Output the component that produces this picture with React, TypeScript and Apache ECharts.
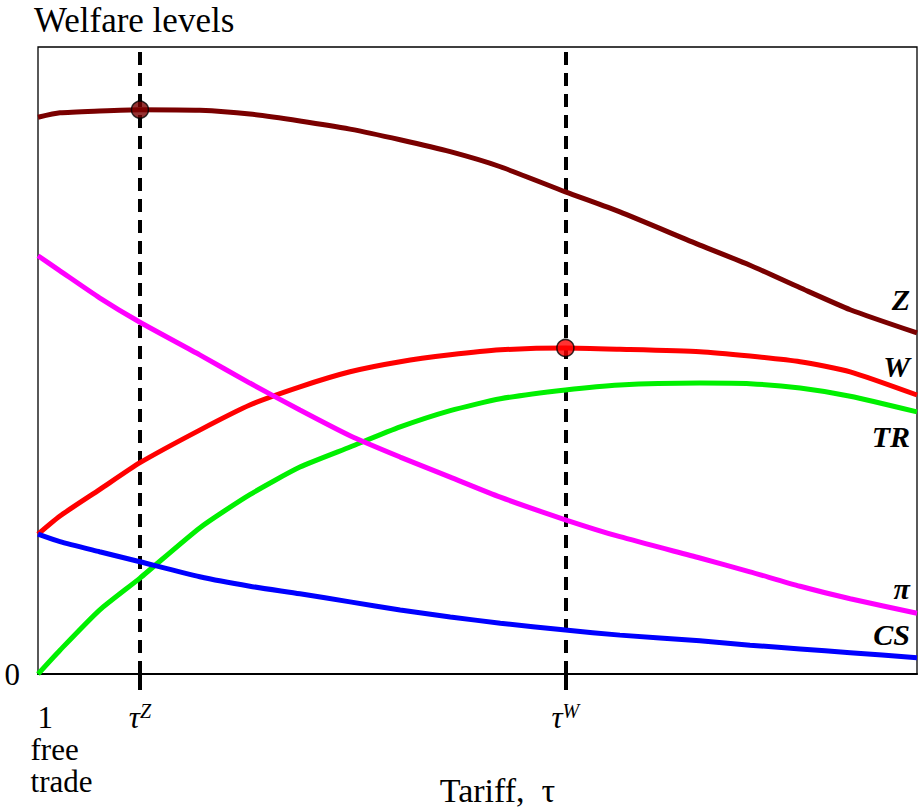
import React, { useEffect, useRef } from "react";
import * as echarts from "echarts";

// Tariff axis positions (0 = free trade, tau = 1)
const tauX = [0, 2.5, 7, 11.6, 18.4, 24.1, 29.8, 35.5, 41.2, 46.9, 52.6, 60, 66.2, 75.3, 81, 86.7, 92.4, 100];
const tauZ = 11.6;
const tauW = 60;

// Welfare components
const zValues = [88.8, 89.5, 89.8, 90.0, 89.9, 89.3, 88.2, 86.9, 85.2, 83.3, 80.9, 76.9, 73.7, 68.4, 65.2, 61.6, 58.1, 54.4];
const wValues = [22.3, 25.2, 29.4, 33.7, 38.9, 42.9, 45.8, 48.2, 49.8, 50.9, 51.7, 52.0, 51.8, 51.4, 50.7, 49.8, 48.2, 44.5];
const trValues = [0, 3.8, 10.2, 15.3, 23.3, 28.6, 33.0, 36.2, 39.4, 42.0, 43.9, 45.3, 46.1, 46.4, 46.3, 45.6, 44.3, 41.8];
const piValues = [66.7, 64.3, 60.0, 56.1, 50.9, 46.4, 42.1, 38.0, 34.6, 31.4, 28.2, 24.6, 21.9, 18.5, 16.3, 14.0, 12.0, 9.7];
const csValues = [22.3, 21.1, 19.5, 17.9, 15.5, 14.0, 12.8, 11.5, 10.2, 9.1, 8.1, 7.0, 6.2, 5.3, 4.6, 4.0, 3.4, 2.6];

const seriesNames = ["Z", "W", "TR", "π", "CS"];
const seriesColors = ["#7a0000", "#ff0000", "#00f000", "#ff00ff", "#0000ff"];

const FONT = "Liberation Serif, Times New Roman, serif";

export default function App() {
  const ref = useRef<HTMLDivElement>(null);
  useEffect(() => {
    if (!ref.current) return;
    const chart = echarts.init(ref.current, null, { renderer: "svg" });
    const all = [zValues, wValues, trValues, piValues, csValues];
    const labelOffsets = [-33, -28, 25, -25, -23];
    const lineSeries = all.map((vals, i) => ({
      type: "line",
      name: seriesNames[i],
      data: tauX.map((x, j) => [x, vals[j]]),
      showSymbol: false,
      symbol: "none",
      smooth: 0.2,
      lineStyle: { color: seriesColors[i], width: 5 },
      itemStyle: { color: seriesColors[i] },
      z: 3,
      endLabel: {
        show: true,
        formatter: seriesNames[i],
        align: "right",
        verticalAlign: "middle",
        offset: [-15, labelOffsets[i]],
        fontFamily: FONT,
        fontSize: 30,
        fontWeight: "bold",
        fontStyle: "italic",
        color: "#000",
      },
    }));
    const iz = tauX.indexOf(tauZ);
    const iw = tauX.indexOf(tauW);
    chart.setOption({
      animation: false,
      title: {
        text: "Welfare levels",
        left: 34,
        top: 3,
        padding: 0,
        textStyle: { fontFamily: FONT, fontSize: 35, fontWeight: "normal", color: "#000" },
      },
      grid: {
        left: 38,
        right: 4,
        top: 47,
        bottom: 135,
        containLabel: false,
        outerBoundsMode: "none",
        show: true,
        borderColor: "#000",
        borderWidth: 1.3,
      },
      xAxis: {
        type: "value",
        min: 0,
        max: 100,
        name: "Tariff,  τ",
        nameLocation: "middle",
        nameGap: 99,
        nameMoveOverlap: false,
        nameTextStyle: {
          fontFamily: FONT,
          fontSize: 34,
          color: "#000",
          padding: [0, 0, 0, 40],
        },
        axisLine: { show: true, onZero: false, lineStyle: { color: "#000", width: 2 } },
        axisTick: {
          show: true,
          customValues: [tauZ, tauW],
          length: 16,
          lineStyle: { color: "#000", width: 4 },
        },
        splitLine: { show: false },
        axisLabel: {
          customValues: [0, tauZ, tauW],
          showMinLabel: true,
          margin: 27,
          color: "#000",
          fontFamily: FONT,
          fontSize: 31,
          formatter: (v: number) => {
            if (v === 0) return "{sp| }{one|1}\n{sp| }{ft|free}\n{sp| }{ft|trade}";
            if (Math.abs(v - tauZ) < 1e-6) return "{tau|τ}{sup|Z}";
            if (Math.abs(v - tauW) < 1e-6) return "{tau|τ}{sup|W}";
            return "";
          },
          rich: {
            sp: { width: 47, align: "left", lineHeight: 32 },
            one: { fontFamily: FONT, fontSize: 31, lineHeight: 32, align: "left", padding: [0, 0, 0, 7], color: "#000" },
            ft: { fontFamily: FONT, fontSize: 31, lineHeight: 32, align: "left", color: "#000" },
            tau: { fontFamily: FONT, fontSize: 31, lineHeight: 32, fontStyle: "italic", color: "#000" },
            sup: { fontFamily: FONT, fontSize: 20, lineHeight: 20, fontStyle: "italic", verticalAlign: "top", color: "#000" },
          },
        },
      },
      yAxis: {
        type: "value",
        min: 0,
        max: 100,
        axisLine: { show: false },
        axisTick: { show: false },
        splitLine: { show: false },
        axisLabel: {
          customValues: [0],
          margin: 18,
          color: "#000",
          fontFamily: FONT,
          fontSize: 31,
        },
      },
      series: [
        ...lineSeries,
        {
          type: "scatter",
          name: "optima",
          z: 5,
          symbol: "circle",
          symbolSize: 17,
          data: [
            { value: [tauZ, zValues[iz]], itemStyle: { color: "#7a0000", borderColor: "#000", borderWidth: 1.5 } },
            { value: [tauW, wValues[iw]], itemStyle: { color: "#ff0000", borderColor: "#000", borderWidth: 1.5 } },
          ],
          markLine: {
            silent: true,
            symbol: ["none", "none"],
            label: { show: false },
            lineStyle: { color: "#000", width: 4, type: [13, 8] },
            z: 2,
            data: [{ xAxis: tauZ }, { xAxis: tauW }],
          },
        },
      ],
    });
    return () => chart.dispose();
  }, []);
  return (
    <div
      ref={ref}
      style={{ position: "fixed", left: 0, top: 0, width: 921, height: 809, background: "#fff" }}
    />
  );
}
